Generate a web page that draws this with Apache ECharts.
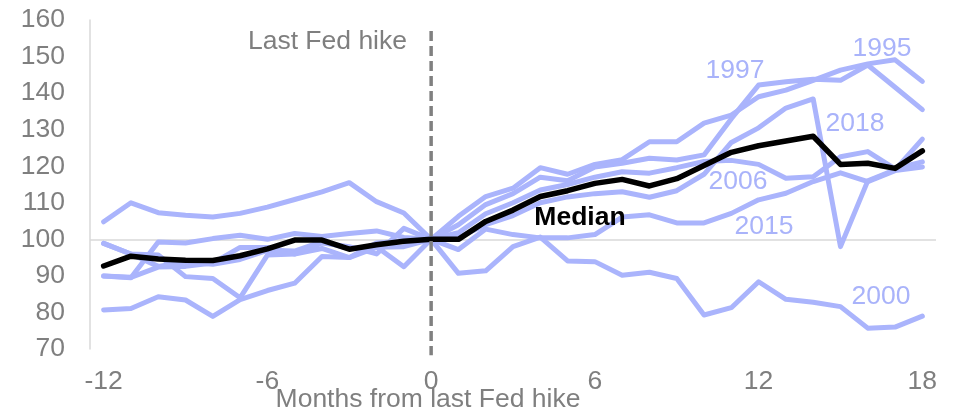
<!DOCTYPE html>
<html>
<head>
<meta charset="utf-8">
<script src="https://cdn.jsdelivr.net/npm/echarts@6/dist/echarts.min.js"></script>
<style>
  html, body { margin: 0; padding: 0; background: #ffffff; }
  #chart { width: 953px; height: 413px; }
</style>
</head>
<body>
<div id="chart"></div>
<script>
// Months relative to the last Fed hike
const months = ['-12','-11','-10','-9','-8','-7','-6','-5','-4','-3','-2','-1','0',
  '1','2','3','4','5','6','7','8','9','10','11','12','13','14','15','16','17','18'];

// Index level, 100 = month of the last hike
const s1995 = [98.9,96.0,92.6,93.8,93.2,94.5,97.0,96.8,99.4,97.5,98.0,92.5,
  100,106.3,111.7,114.0,119.6,117.8,120.5,121.8,126.7,126.7,131.8,134.0,139.0,140.8,143.5,146.3,148.0,149.1,143.2];
const s1997 = [80.7,81.1,84.3,83.4,78.9,83.5,86.0,88.0,95.3,95.0,97.8,98.0,
  100,104.0,109.5,112.5,117.0,116.0,119.8,120.8,122.2,121.7,123.1,133.0,142.2,143.1,143.8,143.5,147.7,141.6,135.5];
const s2000 = [90.0,89.6,92.4,92.6,93.5,97.8,97.8,96.0,97.5,95.0,99.0,99.5,
  100,90.7,91.4,98.0,100.6,94.1,93.9,90.2,91.0,89.3,79.3,81.3,88.4,83.6,82.8,81.6,75.7,76.0,79.0];
const s2006 = [98.9,96.0,95.7,89.8,89.3,84.0,95.7,96.0,99.0,98.0,96.0,103.0,
  100,101.8,107.0,110.0,113.5,115.0,117.0,118.5,118.1,119.6,121.3,121.6,120.5,116.7,117.1,122.6,124.0,119.3,121.2];
const s2015 = [90.0,89.5,99.3,99.0,100.2,101.1,100.0,101.6,100.8,101.6,102.3,100.5,
  100,97.2,102.8,101.3,100.4,100.4,101.3,106.1,106.7,104.5,104.5,107.1,110.8,112.6,115.8,118.2,115.8,118.8,119.8];
const s2018 = [104.8,110.0,107.3,106.6,106.1,107.1,108.8,110.9,113.0,115.5,110.3,107.2,
  100,100.5,104.0,106.5,110.0,111.6,112.5,113.0,111.5,113.3,117.8,126.5,130.5,135.9,138.4,98.0,116.0,119.0,127.4];
const median = [92.7,95.4,94.6,94.3,94.2,95.5,97.4,99.8,99.8,97.3,98.5,99.5,
  100,100.0,104.9,108.0,111.7,113.3,115.3,116.4,114.6,116.6,120.2,123.8,125.6,126.9,128.2,120.5,120.8,119.4,124.2];

const episodes = [
  { name: '1995', data: s1995 },
  { name: '1997', data: s1997 },
  { name: '2000', data: s2000 },
  { name: '2006', data: s2006 },
  { name: '2015', data: s2015 },
  { name: '2018', data: s2018 }
];

const yTicks = { min: 70, max: 160, step: 10 };
const baseLevel = 100;
const hikeMonth = '0';

// Styling
const FONT = 'Liberation Sans, Arial, sans-serif';
const GREY = '#7f7f7f';
const LAVENDER = '#aab4fc';
const LAVENDER_TEXT = '#a9b3fa';
const FS = 26.5;

// Episode name tags: [text, x, y]
const tags = [
  ['1997', 735, 71],
  ['1995', 882, 49],
  ['2018', 855, 124],
  ['2006', 738, 182],
  ['2015', 764, 227],
  ['2000', 881, 297]
];

// Only the 100 level gets a visible split line
const splitColors = [];
for (let v = yTicks.min; v <= yTicks.max; v += yTicks.step) {
  splitColors.push(v === baseLevel ? '#d9d9d9' : 'rgba(0,0,0,0)');
}

const chart = echarts.init(document.getElementById('chart'), null, { renderer: 'canvas' });

const series = [];

episodes.forEach(function (ep) {
  series.push({
    name: ep.name,
    type: 'line',
    data: ep.data,
    symbol: 'none',
    z: 2,
    lineStyle: { color: LAVENDER, width: 5, join: 'round', cap: 'round' },
    silent: true
  });
});

series.push({
  name: 'Median',
  type: 'line',
  data: median,
  symbol: 'none',
  z: 3,
  lineStyle: { color: '#000000', width: 5.5, join: 'round', cap: 'round' },
  silent: true
});

// Dashed marker at the last hike
series.push({
  name: 'hike',
  type: 'custom',
  z: 5,
  silent: true,
  clip: false,
  encode: { x: 0, y: [1, 2] },
  data: [[months.indexOf(hikeMonth), 157, 68.3]],
  renderItem: function (params, api) {
    const p1 = api.coord([api.value(0), api.value(1)]);
    const p2 = api.coord([api.value(0), api.value(2)]);
    return {
      type: 'line',
      shape: { x1: p1[0], y1: p1[1], x2: p2[0], y2: p2[1] },
      style: { stroke: '#808080', lineWidth: 3.5, lineDash: [10, 5] }
    };
  }
});

const graphics = tags.map(function (t) {
  return {
    type: 'text',
    x: t[1], y: t[2],
    z: 10,
    style: {
      text: t[0], fill: LAVENDER_TEXT, font: FS + 'px ' + FONT,
      textAlign: 'center', textVerticalAlign: 'middle',
      align: 'center', verticalAlign: 'middle'
    }
  };
});
graphics.push({
  type: 'text', x: 580, y: 218, z: 10,
  style: {
    text: 'Median', fill: '#000000', font: 'bold ' + FS + 'px ' + FONT,
    textAlign: 'center', textVerticalAlign: 'middle',
    align: 'center', verticalAlign: 'middle'
  }
});
graphics.push({
  type: 'text', x: 407, y: 42, z: 10,
  style: {
    text: 'Last Fed hike', fill: GREY, font: FS + 'px ' + FONT,
    textAlign: 'right', textVerticalAlign: 'middle',
    align: 'right', verticalAlign: 'middle'
  }
});

chart.setOption({
  animation: false,
  backgroundColor: '#ffffff',
  grid: { left: 90, right: 17, top: 20, bottom: 64, containLabel: false, outerBoundsMode: 'none' },
  xAxis: {
    type: 'category',
    data: months,
    boundaryGap: true,
    axisLine: { show: false },
    axisTick: { show: false },
    splitLine: { show: false },
    axisLabel: { interval: 5, color: GREY, fontSize: FS, fontFamily: FONT, margin: 19 },
    name: 'Months from last Fed hike',
    nameLocation: 'middle',
    nameGap: 37,
    nameMoveOverlap: false,
    nameTextStyle: { color: GREY, fontSize: FS, fontFamily: FONT, padding: [0, 170, 0, 0], verticalAlign: 'top' }
  },
  yAxis: {
    type: 'value',
    min: yTicks.min,
    max: yTicks.max,
    interval: yTicks.step,
    axisLine: { show: true, lineStyle: { color: '#d9d9d9', width: 1.5 } },
    axisTick: { show: false },
    splitLine: { show: true, lineStyle: { color: splitColors, width: 1.5 } },
    axisLabel: { color: GREY, fontSize: FS, fontFamily: FONT, margin: 25 }
  },
  graphic: graphics,
  series: series
});
</script>
</body>
</html>
